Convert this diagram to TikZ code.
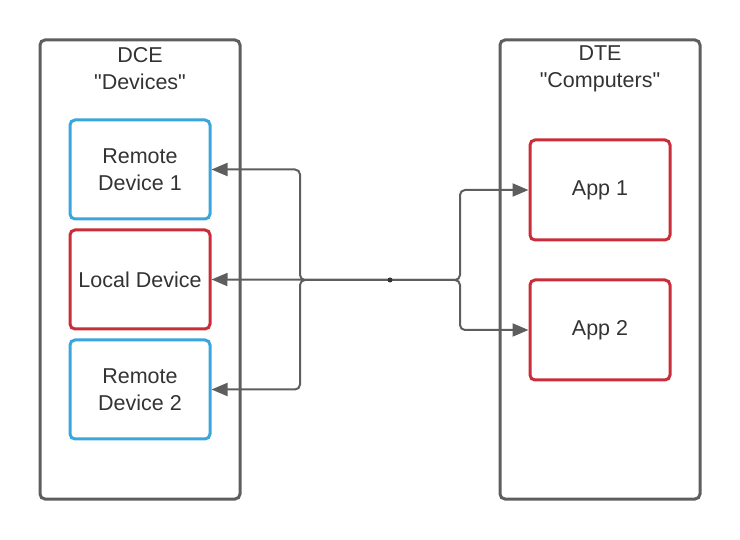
\documentclass[tikz,border=0pt]{standalone}
\usepackage{fontspec}
\newfontfamily\labelfont{Liberation Sans}
\usetikzlibrary{arrows.meta}
\definecolor{edgegray}{HTML}{5E5E5E}
\definecolor{devblue}{HTML}{3AA6DD}
\definecolor{appred}{HTML}{C92D39}
\definecolor{labelgray}{HTML}{333333}
\begin{document}
\begin{tikzpicture}[x=1pt,y=-1pt,
  group/.style={draw=edgegray,line width=3pt,rounded corners=5pt,minimum width=200pt,minimum height=459pt},
  unit/.style={line width=3pt,rounded corners=5pt,minimum width=140pt,minimum height=99pt,align=center},
  conn/.style={draw=edgegray,line width=2pt,rounded corners=5pt,-{Triangle[length=16pt,width=13pt]}},
  font=\labelfont\fontsize{21.5}{27}\selectfont,text=labelgray]
\useasboundingbox (0,0) rectangle (740,540);
\node[group] (dce) at (140,269.5) {};
\node[group] (dte) at (600,269.5) {};
\node[align=center] (dcetitle) at (140,68.5) {DCE\\"Devices"};
\node[align=center] (dtetitle) at (600,68.5) {DTE\\"Computers"};
\node[unit,draw=devblue] (rd1) at (140,169.5) {Remote\\Device 1};
\node[unit,draw=appred] (ld) at (140,279.5) {Local Device};
\node[unit,draw=devblue] (rd2) at (140,389.5) {Remote\\Device 2};
\node[unit,draw=appred,minimum height=100pt] (app1) at (600,190) {App 1};
\node[unit,draw=appred,minimum height=100pt] (app2) at (600,330) {App 2};
\coordinate (hub) at (390,280);
\coordinate (jl) at (300,280);
\coordinate (jr) at (460,280);
\draw[conn] (hub) -- (jl) |- (rd1.east);
\draw[conn] (hub) -- (ld.east);
\draw[conn] (hub) -- (jl) |- (rd2.east);
\draw[conn] (hub) -- (jr) |- (app1.west);
\draw[conn] (hub) -- (jr) |- (app2.west);
\fill[labelgray] (hub) circle (2.5pt);
\end{tikzpicture}
\end{document}
